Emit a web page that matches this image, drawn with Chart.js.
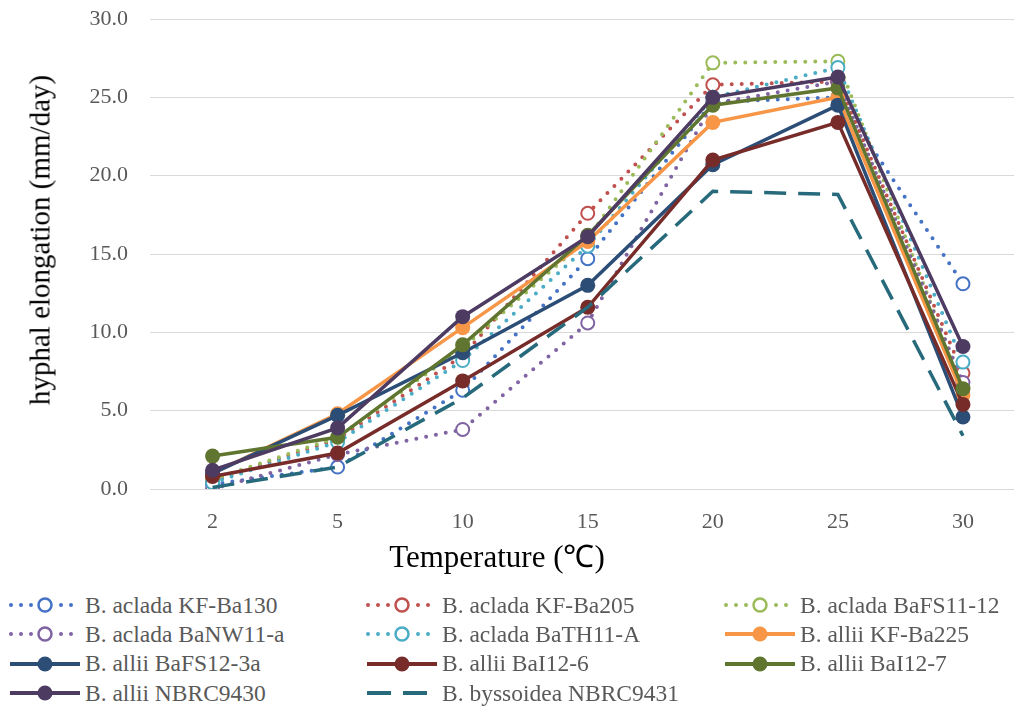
<!DOCTYPE html>
<html><head><meta charset="utf-8">
<script src="https://cdn.jsdelivr.net/npm/chart.js@4/dist/chart.umd.min.js"></script>
<style>
html,body{margin:0;padding:0;background:#fff;overflow:hidden;width:1014px;height:715px;}
#wrap{position:absolute;left:0;top:0;width:1034px;height:580px;}
.serif{font-family:'Liberation Serif','Times New Roman',serif;}
#legend{position:absolute;left:0;top:591px;width:1014px;font-size:23.5px;color:#595959;}
.li{position:absolute;display:flex;align-items:center;height:28px;white-space:nowrap;}
.li svg{margin-right:3px;}
#xtitle{position:absolute;left:497px;top:555px;transform:translate(-50%,-50%);font-size:31px;color:#000;white-space:nowrap;}
#ytitle{position:absolute;left:40px;top:240px;transform:translate(-50%,-50%) rotate(-90deg);font-size:29px;color:#000;white-space:nowrap;}
</style></head>
<body>
<div id="wrap"><canvas id="c"></canvas></div>
<div id="xtitle" class="serif">Temperature (℃)</div>
<div id="ytitle" class="serif">hyphal elongation (mm/day)</div>
<div id="legend" class="serif"></div>
<script>
const temps = ['2','5','10','15','20','25','30'];
const yTicks = [0,5,10,15,20,25,30];
const seriesNames = ['B. aclada KF-Ba130','B. aclada KF-Ba205','B. aclada BaFS11-12','B. aclada BaNW11-a','B. aclada BaTH11-A','B. allii KF-Ba225','B. allii BaFS12-3a','B. allii BaI12-6','B. allii BaI12-7','B. allii NBRC9430','B. byssoidea NBRC9431'];
const kfBa130  = [0.3, 1.4, 6.3, 14.7, 24.7, 25.0, 13.1];
const kfBa205  = [0.5, 3.2, 8.5, 17.6, 25.8, 26.0, 7.4];
const baFS1112 = [0.6, 3.3, 9.0, 16.0, 27.2, 27.3, 6.5];
const baNW11a  = [0.0, 2.2, 3.8, 10.6, 24.6, 26.0, 6.8];
const baTH11A  = [0.4, 3.0, 8.2, 15.5, 25.0, 26.9, 8.1];
const kfBa225  = [1.0, 4.8, 10.3, 15.8, 23.4, 25.0, 6.0];
const baFS123a = [1.0, 4.7, 8.7, 13.0, 20.7, 24.5, 4.6];
const baI126   = [0.8, 2.3, 6.9, 11.6, 21.0, 23.4, 5.4];
const baI127   = [2.1, 3.3, 9.2, 16.2, 24.5, 25.6, 6.4];
const nbrc9430 = [1.2, 3.9, 11.0, 16.1, 25.0, 26.3, 9.1];
const nbrc9431 = [0.1, 1.4, 5.8, 11.6, 19.0, 18.8, 3.4];

const values = [kfBa130,kfBa205,baFS1112,baNW11a,baTH11A,kfBa225,baFS123a,baI126,baI127,nbrc9430,nbrc9431];
const colors = ['#4472C4','#C0504D','#9BBB59','#8064A2','#4BACC6','#F79646','#2C4D75','#772C2A','#5F7530','#4D3B62','#276A7C'];
const styles = ['dot','dot','dot','dot','dot','solid','solid','solid','solid','solid','dash'];

const FONT = "'Liberation Serif','Times New Roman',serif";
const N = values.length;
const datasets = values.map((v,i)=>{
  const st = styles[i], col = colors[i];
  const d = {label:seriesNames[i], data:v, borderColor:col, backgroundColor:col, order:N-i, tension:0, fill:false};
  if(st==='dot'){
    Object.assign(d,{borderWidth:4,borderDash:[0,10],borderCapStyle:'round',pointRadius:6.5,pointBorderWidth:2,pointBackgroundColor:'#fff',pointBorderColor:col,pointStyle:'circle'});
  } else if(st==='solid'){
    Object.assign(d,{borderWidth:3.5,borderCapStyle:'round',pointRadius:7.5,pointBorderWidth:0,pointBackgroundColor:col,pointStyle:'circle'});
  } else {
    Object.assign(d,{borderWidth:3.5,borderDash:[22,12],borderCapStyle:'butt',pointRadius:0});
  }
  return d;
});

new Chart(document.getElementById('c'),{
  type:'line',
  data:{labels:temps,datasets},
  options:{
    responsive:true,maintainAspectRatio:false,animation:false,
    layout:{padding:{top:19,right:1,left:0,bottom:0}},
    plugins:{legend:{display:false},tooltip:{enabled:false}},
    scales:{
      x:{offset:true,
        grid:{display:false,drawTicks:false},
        border:{display:true,color:'#d9d9d9',width:1},
        ticks:{color:'#595959',font:{family:FONT,size:22},padding:20},
        title:{display:false},
        afterFit:s=>{s.height=91;s.paddingLeft=0;s.paddingRight=0;}
      },
      y:{min:0,max:30,
        afterBuildTicks:s=>{s.ticks=yTicks.map(v=>({value:v}));},
        grid:{color:'#d9d9d9',lineWidth:1,drawTicks:false},
        border:{display:false},
        ticks:{color:'#595959',font:{family:FONT,size:22},padding:22,callback:v=>Number(v).toFixed(1)},
        title:{display:false},
        afterFit:s=>{s.width=150;s.paddingTop=0;s.paddingBottom=0;}
      }
    }
  }
});

// HTML legend
const lg = document.getElementById('legend');
const colX = [8, 365, 723];
const rowY = [0, 29.3, 58.6, 88];
seriesNames.forEach((name,i)=>{
  const col = colors[i], st = styles[i];
  let svg = '<svg width="74" height="20" viewBox="0 0 74 20">';
  if(st==='dot'){
    svg += `<line x1="3" y1="10" x2="71" y2="10" stroke="${col}" stroke-width="4" stroke-linecap="round" stroke-dasharray="0 10"/>`;
    svg += `<rect x="26" y="2" width="22" height="16" fill="#fff"/>`;
    svg += `<circle cx="37" cy="10" r="6.5" fill="#fff" stroke="${col}" stroke-width="2.5"/>`;
  } else if(st==='solid'){
    svg += `<line x1="2" y1="10" x2="72" y2="10" stroke="${col}" stroke-width="4"/>`;
    svg += `<circle cx="37" cy="10" r="7.5" fill="${col}"/>`;
  } else {
    svg += `<line x1="2" y1="10" x2="72" y2="10" stroke="${col}" stroke-width="4" stroke-dasharray="24 12"/>`;
  }
  svg += '</svg>';
  const el = document.createElement('div');
  el.className='li';
  el.style.left = colX[i%3]+'px';
  el.style.top = rowY[Math.floor(i/3)]+'px';
  el.innerHTML = svg + '<span>'+name+'</span>';
  lg.appendChild(el);
});
</script>
</body></html>
